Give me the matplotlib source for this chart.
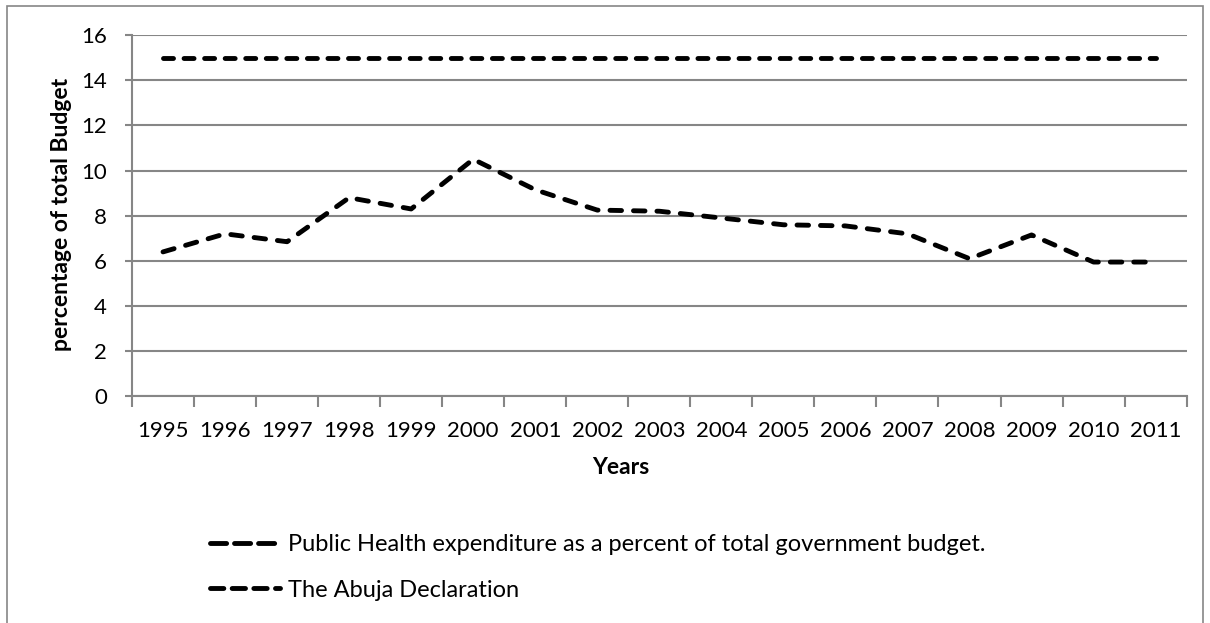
import matplotlib
matplotlib.use("Agg")
import matplotlib.pyplot as plt
from matplotlib.lines import Line2D
from matplotlib.patches import Rectangle

# data
years = ['1995', '1996', '1997', '1998', '1999', '2000', '2001', '2002', '2003',
         '2004', '2005', '2006', '2007', '2008', '2009', '2010', '2011']
health_pct = [6.4, 7.2, 6.85, 8.8, 8.3, 10.5, 9.15, 8.25, 8.2,
              7.9, 7.6, 7.55, 7.2, 6.1, 7.15, 5.95, 5.95]
abuja_pct = [15] * len(years)

label_health = 'Public Health expenditure as a percent of total government budget.'
label_abuja = 'The Abuja Declaration'

plt.rcParams['font.family'] = ['Lato', 'DejaVu Sans']
plt.rcParams['lines.scale_dashes'] = False

grey = '#868686'

fig = plt.figure(figsize=(12.10, 6.23), dpi=100)
ax = fig.add_axes([0.1091, 0.3636, 0.8716, 0.5802])

x = list(range(len(years)))
ax.plot(x, health_pct, color='black', linewidth=3.5,
        dashes=(8.3, 8.6), dash_capstyle='round')
ax.plot(x, abuja_pct, color='black', linewidth=3.5,
        dashes=(7.2, 7.6), dash_capstyle='round')

ax.set_xlim(-0.5, len(years) - 0.5)
ax.set_ylim(0, 16)
ax.set_yticks(range(0, 17, 2))
ax.set_xticks(x)
ax.set_xticklabels(years)
ax.set_xticks([i - 0.5 for i in range(len(years) + 1)], minor=True)
ax.tick_params(axis='x', which='major', length=0, labelsize=16, pad=18)
ax.tick_params(axis='x', which='minor', length=8, width=1.5, color=grey, direction='out')
ax.tick_params(axis='y', length=5, width=1.5, color=grey, labelsize=16, pad=13)

ax.grid(axis='y', color=grey, linewidth=1.5)
ax.set_axisbelow(True)
for s in ['top', 'right']:
    ax.spines[s].set_visible(False)
for s in ['left', 'bottom']:
    ax.spines[s].set_color(grey)
    ax.spines[s].set_linewidth(1.5)

ax.set_xlabel('Years', fontsize=16.5, fontweight='bold')
ax.xaxis.set_label_coords(0.4636, -0.168)
ax.set_ylabel('percentage of total Budget', fontsize=16.5, fontweight='bold')
ax.yaxis.set_label_coords(-0.0569, 0.503)

# legend keys are drawn with longer dashes than the plotted lines
key_health = Line2D([], [], color='black', linewidth=3.5,
                    dashes=(11.6, 5.7), dash_capstyle='round')
key_abuja = Line2D([], [], color='black', linewidth=3.5,
                   dashes=(9.6, 6.0), dash_capstyle='round')
fig.legend(handles=[key_health, key_abuja], labels=[label_health, label_abuja],
           loc='upper left', bbox_to_anchor=(0.1736, 0.143),
           frameon=False, fontsize=17, handlelength=2.97, handletextpad=0.34,
           labelspacing=1.05, borderpad=0, borderaxespad=0)

# outer chart border (bottom edge falls outside the picture)
fig.patches.append(Rectangle((7 / 1210, -10 / 623), 1196 / 1210, 627 / 623,
                             transform=fig.transFigure, fill=False,
                             edgecolor=grey, linewidth=1.2))

fig.savefig('out.png', dpi=100)
